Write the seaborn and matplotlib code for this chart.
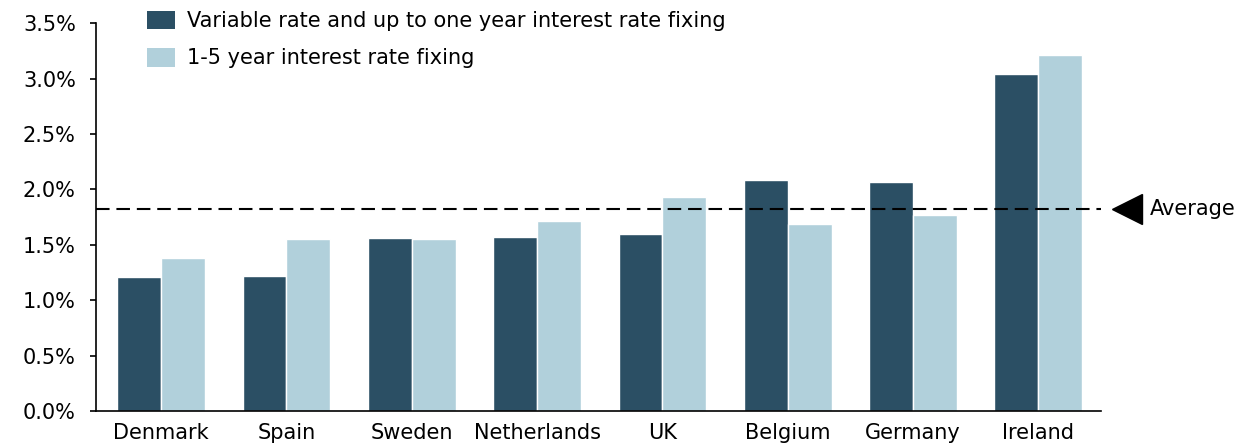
import pandas as pd
import seaborn as sns
import matplotlib.pyplot as plt
import matplotlib.transforms as mtransforms
from matplotlib.patches import Patch
from matplotlib.ticker import FuncFormatter

countries = ['Denmark', 'Spain', 'Sweden', 'Netherlands', 'UK', 'Belgium', 'Germany', 'Ireland']
variable_rate = [1.21, 1.22, 1.56, 1.57, 1.60, 2.08, 2.07, 3.04]
fixed_1_5 = [1.38, 1.55, 1.55, 1.71, 1.93, 1.69, 1.77, 3.21]
average = 1.82

series_names = ['Variable rate and up to one year interest rate fixing',
                '1-5 year interest rate fixing']
colors = ['#2b4f64', '#b1d0db']

df = pd.DataFrame({
    'country': countries * 2,
    'rate': variable_rate + fixed_1_5,
    'series': [series_names[0]] * len(countries) + [series_names[1]] * len(countries),
})

sns.set_style('white')
plt.rcParams['font.family'] = ['DejaVu Sans']
plt.rcParams['text.color'] = 'black'
plt.rcParams['xtick.color'] = 'black'
plt.rcParams['ytick.color'] = 'black'

fig = plt.figure(figsize=(12.59, 4.44), dpi=100)
ax = fig.add_axes([0.0762, 0.0743, 0.7983, 0.8737])

sns.barplot(data=df, x='country', y='rate', hue='series', palette=colors, saturation=1,
            width=0.7, edgecolor='white', linewidth=1, ax=ax, legend=False)

ax.set_xlim(-0.52, 7.5)
ax.set_ylim(0, 3.5)
ax.set_yticks([0, 0.5, 1.0, 1.5, 2.0, 2.5, 3.0, 3.5])
ax.yaxis.set_major_formatter(FuncFormatter(lambda v, p: f'{v:.1f}%'))
ax.set_xlabel('')
ax.set_ylabel('')

for s in ['top', 'right']:
    ax.spines[s].set_visible(False)
ax.spines['left'].set_color('black')
ax.spines['bottom'].set_color('black')
ax.spines['left'].set_linewidth(1.2)
ax.spines['bottom'].set_linewidth(1.2)

ax.tick_params(axis='y', left=True, length=4.5, width=1.2, labelsize=15, pad=10, colors='black')
ax.tick_params(axis='x', bottom=False, labelsize=15, pad=5, colors='black')

# average line with arrow marker
ax.axhline(average, color='black', linestyle=(0, (6.5, 3.3)), linewidth=1.5)
trans = mtransforms.blended_transform_factory(ax.transAxes, ax.transData)
ax.plot([1.0254], [average], marker='<', markersize=21, color='black',
        transform=trans, clip_on=False)
ax.text(1.049, average, 'Average', transform=trans, va='center', ha='left', fontsize=15)

handles = [Patch(facecolor=c, edgecolor='none') for c in colors]
ax.legend(handles, series_names, loc='upper left', bbox_to_anchor=(0.032, 1.08),
          frameon=False, fontsize=15, handlelength=1.35, handleheight=1.0,
          handletextpad=0.58, labelspacing=0.8)

fig.savefig('out.png', dpi=100)
